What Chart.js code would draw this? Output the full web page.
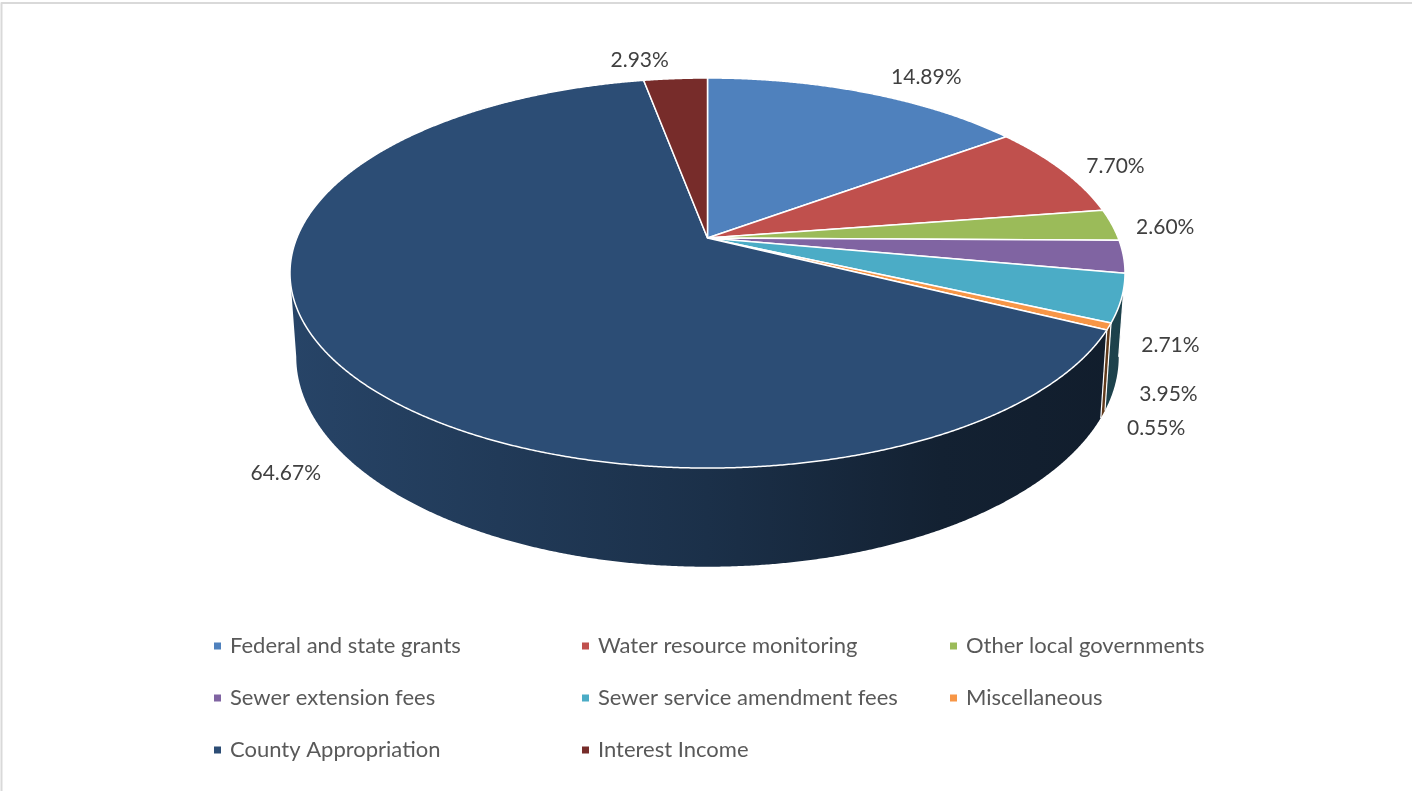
<!DOCTYPE html>
<html lang="en">
<head>
    <meta charset="UTF-8">
    <meta name="viewport" content="width=device-width, initial-scale=1.0">
    <script src="https://cdn.jsdelivr.net/npm/chart.js@4.4.1/dist/chart.umd.min.js"></script>
    <title>Revenue Sources</title>
    <style>
        html, body { margin: 0; padding: 0; background: #fff; }
        canvas { display: block; }
    </style>
</head>
<body>
    <canvas id="pie-chart" width="1412" height="791"></canvas>

<script>

var categories = [
    'Federal and state grants',
    'Water resource monitoring',
    'Other local governments',
    'Sewer extension fees',
    'Sewer service amendment fees',
    'Miscellaneous',
    'County Appropriation',
    'Interest Income'
];
var shares = [14.89, 7.70, 2.60, 2.71, 3.95, 0.55, 64.67, 2.93];
var sliceColors = ['#4f81bd', '#c0504d', '#9bbb59', '#8064a2', '#4bacc6', '#f79646', '#2c4d75', '#772c2a'];

// tilt / perspective of the 3d pie
var PERSP = 0.18, TILT = 0.4595, DEPTH = 0.197, FLOOR_SHRINK = 0.985;

function pieGeometry(area) {
    var c = (area.right - area.left) / 2 * Math.sqrt(1 - PERSP * PERSP);
    var b = c * TILT;
    return { cx: (area.left + area.right) / 2, cy: area.top + b / (1 + PERSP), c: c, b: b, h: c * DEPTH,
             left: area.left, right: area.right };
}

// angle in canvas radians, r = 0..1, floor = bottom edge of the wall
function project(g, angle, r, floor) {
    var u = r * Math.cos(angle), t = r * Math.sin(angle);
    var k = 1 / (1 - PERSP * t);
    var x = g.cx + g.c * u * k, y = g.cy + g.b * t * k;
    if (floor) {
        x = g.cx + (x - g.cx) * FLOOR_SHRINK;
        y += g.h * k;
    }
    return { x: x, y: y };
}

function shade(hex, f) {
    var n = parseInt(hex.slice(1), 16);
    var r = Math.round(((n >> 16) & 255) * f), gg = Math.round(((n >> 8) & 255) * f), b = Math.round((n & 255) * f);
    return 'rgb(' + r + ',' + gg + ',' + b + ')';
}

var pie3d = {
    id: 'pie3d',
    beforeDatasetsDraw: function(chart) {
        var ctx = chart.ctx;
        var g = pieGeometry(chart.chartArea);
        var arcs = chart.getDatasetMeta(0).data;
        var lo = Math.asin(PERSP), hi = Math.PI - lo;
        var step = Math.PI / 720;

        // outer wall: lit from the left, darker towards the right
        arcs.forEach(function(arc) {
            var s = Math.max(arc.startAngle, lo), e = Math.min(arc.endAngle, hi);
            if (e <= s) return;
            var base = arc.options.backgroundColor;
            var grad = ctx.createLinearGradient(g.left, 0, g.right, 0);
            grad.addColorStop(0, shade(base, 0.88));
            grad.addColorStop(0.5, shade(base, 0.62));
            grad.addColorStop(0.78, shade(base, 0.43));
            grad.addColorStop(1, shade(base, 0.38));
            ctx.beginPath();
            var a, p;
            for (a = s; a < e; a += step) {
                p = project(g, a, 1, false);
                if (a === s) ctx.moveTo(p.x, p.y); else ctx.lineTo(p.x, p.y);
            }
            p = project(g, e, 1, false);
            ctx.lineTo(p.x, p.y);
            for (a = e; a > s; a -= step) {
                p = project(g, a, 1, true);
                ctx.lineTo(p.x, p.y);
            }
            p = project(g, s, 1, true);
            ctx.lineTo(p.x, p.y);
            ctx.closePath();
            ctx.fillStyle = grad;
            ctx.fill();
        });

        // seams between slices on the wall
        ctx.strokeStyle = '#ffffff';
        ctx.lineWidth = 1.2;
        arcs.forEach(function(arc) {
            if (arc.startAngle > lo && arc.startAngle < hi) {
                var top = project(g, arc.startAngle, 1, false), bot = project(g, arc.startAngle, 1, true);
                ctx.beginPath();
                ctx.moveTo(top.x, top.y);
                ctx.lineTo(bot.x, bot.y);
                ctx.stroke();
            }
        });

        // top face
        arcs.forEach(function(arc) {
            var c = project(g, 0, 0, false);
            ctx.beginPath();
            ctx.moveTo(c.x, c.y);
            for (var a = arc.startAngle; a < arc.endAngle; a += step) {
                var p = project(g, a, 1, false);
                ctx.lineTo(p.x, p.y);
            }
            var pe = project(g, arc.endAngle, 1, false);
            ctx.lineTo(pe.x, pe.y);
            ctx.closePath();
            ctx.fillStyle = arc.options.backgroundColor;
            ctx.fill();
            ctx.strokeStyle = '#ffffff';
            ctx.lineWidth = 1.5;
            ctx.lineJoin = 'round';
            ctx.stroke();
        });
        return false;
    },
    afterDraw: function(chart) {
        var ctx = chart.ctx;
        var g = pieGeometry(chart.chartArea);
        var arcs = chart.getDatasetMeta(0).data;

        // percentage labels just outside each slice
        ctx.font = '21px Lato';
        ctx.fillStyle = '#404040';
        ctx.textAlign = 'center';
        ctx.textBaseline = 'middle';
        arcs.forEach(function(arc, i) {
            var mid = (arc.startAngle + arc.endAngle) / 2;
            var u = Math.cos(mid), t = Math.sin(mid);
            var p = project(g, mid, 1, t > 0);
            var text = shares[i].toFixed(2) + '%';
            var w = ctx.measureText(text).width;
            var sx = u >= 0 ? 1 : -1;
            var x = p.x + sx * (w / 2 + 24 * Math.min(1, 3 * Math.abs(u)));
            var y = p.y + 22 * t + 4;
            ctx.fillText(text, x, y);
        });

        // legend, three columns
        var lg = chart.options.plugins.pie3d;
        ctx.font = '22px Lato';
        ctx.textAlign = 'left';
        categories.forEach(function(name, i) {
            var col = i % 3, row = Math.floor(i / 3);
            var x = lg.legendLeft + col * lg.colWidth, y = lg.legendTop + row * lg.rowHeight;
            ctx.fillStyle = sliceColors[i];
            ctx.fillRect(x, y - 3.5, 7, 7);
            ctx.fillStyle = '#595959';
            ctx.fillText(name, x + 16, y);
        });

        // chart frame
        ctx.strokeStyle = '#d9d9d9';
        ctx.lineWidth = 2;
        ctx.beginPath();
        ctx.moveTo(1.5, chart.height);
        ctx.lineTo(1.5, 3);
        ctx.lineTo(chart.width, 3);
        ctx.stroke();
    }
};

var pie_ctx = document.getElementById('pie-chart').getContext('2d');

var pie_chart = new Chart(pie_ctx, {
    type: 'pie',
    data: {
        labels: categories,
        datasets: [{
            data: shares,
            backgroundColor: sliceColors,
            borderColor: '#ffffff'
        }]
    },
    options: {
        responsive: false,
        animation: false,
        layout: {
            padding: { left: 290, right: 287, top: 78, bottom: 224 }
        },
        plugins: {
            legend: { display: false },
            tooltip: { enabled: false },
            pie3d: { legendLeft: 214, colWidth: 368, legendTop: 646, rowHeight: 52 }
        }
    },
    plugins: [pie3d]
});

</script>

</body>
</html>
